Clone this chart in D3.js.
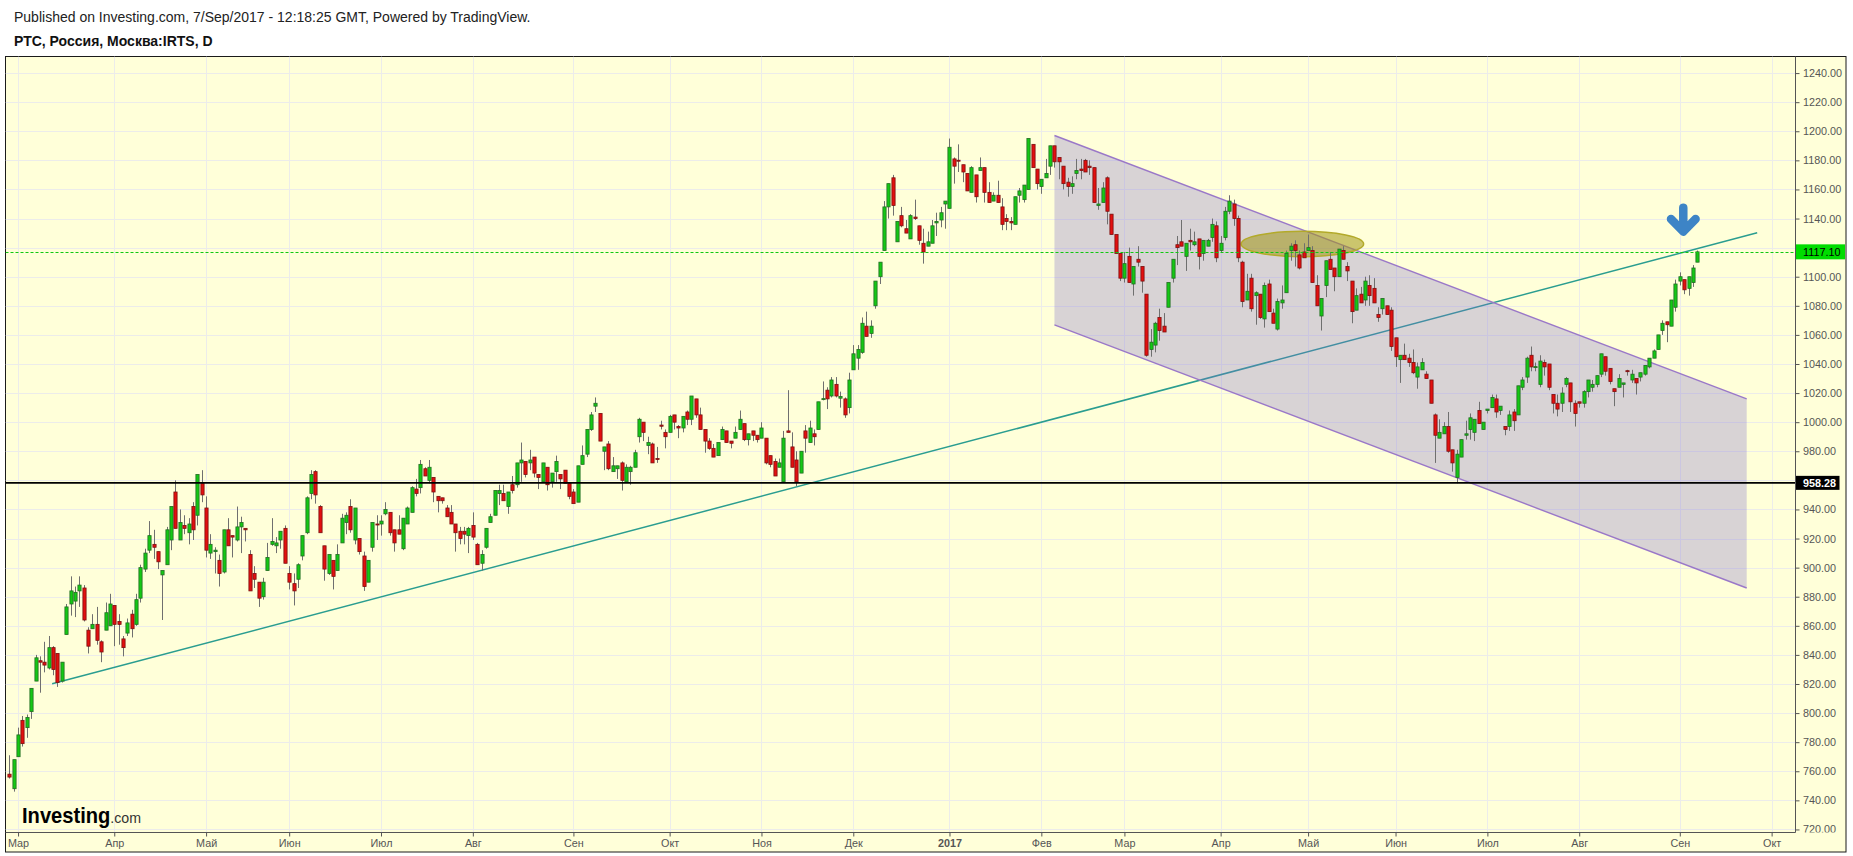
<!DOCTYPE html>
<html><head><meta charset="utf-8">
<script src="https://cdn.jsdelivr.net/npm/d3@7"></script>
<style>
body{margin:0;background:#fff;overflow:hidden}
svg{display:block}
text{font-family:"Liberation Sans",Arial,sans-serif}
</style>
</head><body>
<svg id="chart" width="1853" height="856"></svg>
<script>
// ---------- DATA (РТС daily) ----------
const open=[758,748,770,795,790,801,822,836,835,831,
845,841,822,854,875,877,884,886,857,858,
861,849,857,860,874,863,851,855,868,861,
879,899,912,916,911,895,902,919,952,919,
929,924,942,936,958,941,910,911,905,897,
926,922,919,928,927,909,896,890,880,898,
916,915,919,927,896,889,892,908,924,951,
966,942,915,896,905,898,917,931,942,919,
920,908,890,914,930,930,937,938,926,926,
913,930,938,954,955,968,960,962,949,948,
941,938,930,925,925,922,929,916,903,914,
931,936,951,951,942,957,957,972,973,972,
976,964,959,969,959,966,964,967,958,952,
945,971,978,995,1011,1006,980,985,966,968,
972,959,966,969,990,1000,984,985,975,998,
993,993,1005,997,996,1007,1002,1016,1005,995,
987,982,977,988,994,987,989,995,999,988,
994,991,989,989,977,973,969,959,994,983,
974,965,994,986,992,995,1015.8,1022,1018,1026,
1016.5,1016,1010,1036,1044,1048,1066,1061,1080,1100,
1118,1148,1168,1124,1142,1133,1126,1141,1135,1123,
1121,1123,1137,1139,1150,1147,1181,1180.1,1177,1171,
1158,1170,1173,1175,1158,1152,1156,1148,1140,1138,
1136,1156,1153,1160,1191,1174,1162,1168,1176,1190,
1182,1176,1165,1162,1171,1174,1180,1176,1175,1149,
1151,1168,1143,1129,1116,1099,1114,1095,1112,1107,
1088,1050,1053,1072,1066,1079,1099,1122,1124,1114,
1125,1122,1126,1116,1121,1127,1135,1118,1127,1145,
1150,1140,1110,1084,1099,1087,1088,1071,1095,1075,
1064,1082,1089,1118,1122,1115,1117,1118,1118,1094,
1073,1094,1112,1106,1100,1118,1107,1097,1077,1088,
1084,1094,1092,1074,1078,1080,1077,1058,1043,1046,
1044,1041,1031,1036,1033,1029,1005,989,992,997,
981,962,976,991,995,993,1008,995,1008,1010,
1016,1008,997,997,1007,1005,1024,1031,1046,1037.7,
1026,1041,1040,1019,1013,1013,1026,1027,1013,1014,
1013,1021,1024,1026,1033,1045,1037,1023,1024,1026,
1035.4,1029,1030,1031,1033,1038,1044,1050,1063,1069,
1066,1079,1097,1098,1092,1096,1110];
const high=[771,768,790,798,799,817,840,839,849,853,
846,841,835,875,894,887,894,888,859,868,
873,850,876,882,874,868,853,865,871,882,
902,913,932,926,911,898,928,942,960,940,
936,934,945,964,967,949,923,914,909,926,
934,922,942,935,927,912,901,890,893,917,
934,921,925,929,901,896,903,922,949,967,
967,943,915,909,905,916,937,938,947,941,
920,911,905,931,936,936,945,938,926,936,
934,942,956,961,974,969,974,962,949,948,
943,943,930,928,928,928,938,917,912,927,
937,953,957,957,952,963,972,986,973,981,
976,964,972,969,965,977,964,967,958,954,
970,984,995,1007,1017,1006,983,987,976,970,
973,971,970,981,1003,1000,990,986,983,1001,
995,1005,1005,998,1004,1008,1018,1016,1010,995,
989,985,986,997,994,987,997,1008,999,992,
994,991,1000,989,977,975,975,994,1022,993,
980,980,998,1001,995,1014,1028,1024,1031,1031,
1021,1017,1034,1053,1053,1072,1076,1070,1097,1110,
1152,1164,1170,1138,1148,1139,1143,1153,1135,1133,
1131,1139,1144,1148,1152,1195,1182,1191,1177,1171,
1176,1170,1182,1175,1165,1158,1166,1154,1143,1141,
1155,1161,1163,1195,1191,1174,1167,1181,1190,1190,
1182,1176,1168,1169,1181,1181,1181,1180,1175,1161,
1165,1169,1143,1129,1116,1117,1120,1107,1121,1107,
1088,1064,1069,1078,1075,1096,1112,1128,1139,1123,
1133,1131,1126,1125,1126,1140,1138,1128,1148,1156,
1153,1142,1111,1102,1102,1090,1088,1096,1098,1078,
1085,1094,1118,1123,1125,1118,1123,1129,1121,1101,
1085,1111,1117,1106,1119,1121,1110,1097,1092,1093,
1100,1101,1099,1079,1085,1080,1079,1058,1046,1054,
1047,1050,1041,1044,1035,1029,1006,1002,1000,1007,
981,981,988,1001,1006,1002,1014,1000,1009,1019,
1019,1011,997,1008,1009,1025,1031,1045,1052,1041,
1046,1043,1040,1019,1019,1024,1031,1027,1015,1014,
1022,1029,1029,1032,1047,1045,1037,1023,1033,1027,
1036,1036,1030,1034,1039,1044,1050,1060,1070,1069,
1084,1098,1103,1098,1100,1108,1118];
const low=[755,746,770,777,783,796,822,814,828,830,
826,818,821,854,867,866,873,863,841,858,
847,835,857,860,846,847,839,853,852,860,
876,897,910,906,899,864,902,912,927,919,
923,916,919,929,945,907,906,896,887,896,
915,907,918,910,918,884,886,873,878,898,
915,910,913,903,885,874,886,905,923,947,
944,924,891,895,885,898,917,923,924,916,
909,884,890,911,919,922,936,922,911,923,
912,930,938,949,951,963,958,945,938,944,
935,930,911,916,916,910,919,902,898,913,
931,936,943,946,937,951,955,959,962,967,
962,954,959,953,955,959,954,958,947,944,
945,971,976,994,1007,987,967,967,966,961,
953,959,957,969,986,987,978,972,972,995,
982,993,995,989,993,998,998,1003,995,979,
981,976,977,988,986,982,989,995,987,984,
987,986,989,971,969,963,969,959,993,969,
956,965,979,986,984,995,1015,1009,1017,1017,
1010,1003,1006,1036,1036,1047,1059,1058,1078,1095,
1118,1140,1142,1124,1134,1130,1126,1139,1122,1109,
1121,1123,1128,1134,1133,1147,1164,1172,1165,1159,
1158,1151,1173,1151,1151,1152,1151,1132,1132,1132,
1136,1151,1151,1160,1175,1160,1157,1168,1170,1175,
1167,1160,1155,1157,1167,1167,1172,1170,1151,1146,
1151,1136,1129,1116,1097,1096,1096,1087,1107,1089,
1045,1045,1048,1056,1062,1079,1096,1108,1121,1104,
1118,1121,1105,1111,1121,1124,1110,1117,1125,1143,
1135,1110,1079,1084,1076,1067,1071,1065,1076,1068,
1063,1078,1089,1111,1107,1105,1113,1118,1096,1080,
1063,1086,1105,1090,1100,1112,1097,1068,1077,1082,
1080,1080,1082,1069,1074,1074,1049,1038,1027,1043,
1038,1033,1023,1036,1030,1013,972,989,992,979,
966,958,976,988,988,987,999,995,1006,1010,
1003,1005,991,994,994,1005,1022,1027,1035,1035,
1024,1032,1022,1006,1004,1007,1024,1007,997,1010,
1010,1017,1021,1024,1031,1032,1026,1011,1024,1017,
1032,1027,1019,1028,1032,1037,1044,1050,1060,1055,
1066,1076,1094,1088,1087,1093,1110];
const close=[756,768,785,779,797,817,838,835,833,845,
830,821,835,873,884,883,888,864,846,861,
850,842,869,875,861,861,845,862,858,878,
900,910,922,914,904,898,926,942,927,931,
927,930,926,964,950,912,916,912,896,926,
915,921,928,931,926,884,892,879,890,907,
918,917,925,903,890,884,902,922,948,964,
950,924,899,909,894,909,934,936,926,941,
911,887,905,931,929.5,932,940,924,917,923,
934,941,955,951,971,963,969,952,946,946,
935,930,924,920,923,927,921,902,909,927,
935,953,953,946,952,953,972,974,964,974,
965,962,972,957,965,973,961,958,949,944,
970,977,995,1005,1013,987,983,968,970,970,
960,969,969,979,1002,993,986,972,974.5,997.2,
990,1004,1000,996,1004,1002,1018,1005,995,987,
982,976,986,995,986,985.5,993,1002,988,992,
991,988,996,972,971,963,972,989,993,969,
959,980,989,996,990,1014,1016.2,1016,1029,1018,
1017.6,1005,1029,1047,1050,1068,1059,1066,1097,1110,
1148,1164,1149,1138,1135,1130,1142,1140,1125,1117,
1124,1135,1138,1144,1152,1189,1176,1179.6,1172,1159,
1175,1155,1175,1158,1151,1156,1151,1136,1138,1137,
1155,1159,1163,1195,1175,1164,1167,1171,1190,1179,
1179,1164,1162,1164,1173,1173,1172,1175,1151,1150,
1161,1145,1129,1116,1099,1109,1096,1107,1110,1097,
1046,1055,1068,1063,1062,1096,1112,1120,1121,1123,
1124,1124,1114,1125,1125,1136,1113,1123,1145,1152,
1140,1113,1083,1090,1078,1089,1072,1094,1076,1068,
1083,1084,1116,1121,1118,1106,1113,1120,1096,1080,
1085,1111,1105,1100,1119,1112,1104,1076,1087,1082,
1097,1087,1082,1072,1085,1074,1052,1045,1046,1043,
1041,1034,1038,1041,1030,1013,991,993,997,980,
972,978,988,992,1003,1002,999,1000,1009,1017,
1007,1011,995,1005,1001,1025,1029,1044,1038,1038.2,
1042,1038,1024,1013,1009,1020,1030,1014,1006,1013,
1021,1029,1026,1032,1047,1035,1028,1021,1030,1027,
1035.2,1033,1027,1034,1039,1044,1049,1060,1068,1067,
1084,1095,1100,1091,1100,1106,1117.1];

const monthLabels=["Мар","Апр","Май","Июн","Июл","Авг","Сен","Окт","Ноя","Дек","2017","Фев","Мар","Апр","Май","Июн","Июл","Авг","Сен","Окт"];
const monthBars=[2,24,45,64,85,106,129,151,172,193,215,236,255,277,297,317,338,359,382,403];
const priceTicks=d3.range(720,1241,20);
const lastPrice=1117.10;
const levelPrice=958.28;
const trendLine=[[9.8,820.1],[399.7,1130.2]];
const channelTop=[[239,1197.1],[397.3,1016.0]];
const channelBottom=[[239,1066.9],[397.3,886.0]];
const ellipseMark={bar:295.7,price:1122.5,barR:14.0,priceR:8.7};
const arrowMark={bar:382.8,price:1131};
const titleLine1="Published on Investing.com, 7/Sep/2017 - 12:18:25 GMT, Powered by TradingView.";
const titleLine2="РТС, Россия, Москва:IRTS, D";

// ---------- LAYOUT ----------
const svg=d3.select("#chart");
const L=5.5,R=1795.5,T=56.5,B=832.5,FR=1846;
const x=d3.scaleLinear().domain([-0.87,408.46]).range([L,R]);
const y=d3.scaleLinear().domain([717.9,1251.4]).range([B,T]);

svg.append("rect").attr("width",1853).attr("height",856).attr("fill","#ffffff");
svg.append("rect").attr("x",L).attr("y",T).attr("width",FR-L).attr("height",852-T)
  .attr("fill","#ffffd9").attr("stroke","#1a1a1a").attr("stroke-width",1);

svg.append("text").attr("x",14).attr("y",22).attr("font-size",14).attr("fill","#222").text(titleLine1);
svg.append("text").attr("x",14).attr("y",45.5).attr("font-size",14).attr("font-weight","bold").attr("fill","#111").text(titleLine2);

const defs=svg.append("defs");
defs.append("clipPath").attr("id","plotClip").append("rect").attr("x",L).attr("y",T).attr("width",R-L).attr("height",B-T);
defs.append("clipPath").attr("id","yClip").append("rect").attr("x",R).attr("y",T).attr("width",FR-R).attr("height",B-T);

const plot=svg.append("g").attr("clip-path","url(#plotClip)");

// grid
plot.append("g").selectAll("line").data(priceTicks).join("line")
  .attr("x1",L).attr("x2",R).attr("y1",d=>Math.round(y(d))+0.5).attr("y2",d=>Math.round(y(d))+0.5)
  .attr("stroke","#ececea").attr("stroke-width",1);
plot.append("g").selectAll("line").data(monthBars).join("line")
  .attr("x1",d=>Math.round(x(d))+0.5).attr("x2",d=>Math.round(x(d))+0.5).attr("y1",T).attr("y2",B)
  .attr("stroke","#ececea").attr("stroke-width",1);

// trend line
plot.append("line")
  .attr("x1",x(trendLine[0][0])).attr("y1",y(trendLine[0][1]))
  .attr("x2",x(trendLine[1][0])).attr("y2",y(trendLine[1][1]))
  .attr("stroke","#2a9d90").attr("stroke-width",1.5);

// channel
const chPts=[channelTop[0],channelTop[1],channelBottom[1],channelBottom[0]];
plot.append("polygon").attr("points",chPts.map(p=>x(p[0])+","+y(p[1])).join(" "))
  .attr("fill","rgba(125,108,205,0.30)");
[channelTop,channelBottom].forEach(c=>{
  plot.append("line").attr("x1",x(c[0][0])).attr("y1",y(c[0][1])).attr("x2",x(c[1][0])).attr("y2",y(c[1][1]))
    .attr("stroke","#9a78c8").attr("stroke-width",1.4);
});

// ellipse
plot.append("ellipse")
  .attr("cx",x(ellipseMark.bar)).attr("cy",y(ellipseMark.price))
  .attr("rx",x(ellipseMark.bar+ellipseMark.barR)-x(ellipseMark.bar))
  .attr("ry",y(ellipseMark.price-ellipseMark.priceR)-y(ellipseMark.price))
  .attr("fill","rgba(160,150,20,0.55)").attr("stroke","#b3aa2a").attr("stroke-width",1.5);

// candles
const bars=d3.range(close.length);
const cg=plot.append("g");
cg.selectAll("line").data(bars).join("line")
  .attr("x1",i=>Math.round(x(i))+0.5).attr("x2",i=>Math.round(x(i))+0.5)
  .attr("y1",i=>y(high[i])).attr("y2",i=>y(low[i]))
  .attr("stroke","#6f6f6f").attr("stroke-width",1);
cg.selectAll("rect").data(bars).join("rect")
  .attr("x",i=>Math.round(x(i))+0.5-1.6).attr("width",3.2)
  .attr("y",i=>y(Math.max(open[i],close[i])))
  .attr("height",i=>Math.max(1,Math.abs(y(open[i])-y(close[i]))))
  .attr("fill",i=>close[i]>=open[i]?"#14c814":"#e30f0f")
  .attr("stroke",i=>close[i]>=open[i]?"#236b23":"#7a1010")
  .attr("stroke-width",0.8);

// horizontal levels
plot.append("line").attr("x1",L).attr("x2",R).attr("y1",y(levelPrice)).attr("y2",y(levelPrice))
  .attr("stroke","#000").attr("stroke-width",1.6);
plot.append("line").attr("x1",L).attr("x2",R).attr("y1",Math.round(y(lastPrice))+0.5).attr("y2",Math.round(y(lastPrice))+0.5)
  .attr("stroke","#10c810").attr("stroke-width",1).attr("stroke-dasharray","3,2");

// arrow
const ax=x(arrowMark.bar), ay=y(arrowMark.price);
plot.append("path")
  .attr("d",`M${ax},${ay-24}L${ax},${ay-1}M${ax-12.3},${ay-12.6}L${ax},${ay}L${ax+12.3},${ay-12.6}`)
  .attr("fill","none").attr("stroke","#3d84c6").attr("stroke-width",8.5)
  .attr("stroke-linecap","round").attr("stroke-linejoin","round");

// logo (one text element, horizontally condensed)
const logo=svg.append("text").attr("transform","translate(22,823) scale(0.915,1)");
logo.append("tspan").attr("font-size",22).attr("font-weight","bold").attr("fill","#000").text("Investing");
logo.append("tspan").attr("font-size",15.5).attr("fill","#333").text(".com");

// axes (labels hidden under the price boxes are not drawn, as in the reference)
const yAxis=d3.axisRight(y).tickValues(priceTicks).tickFormat(d3.format(".2f")).tickSize(4).tickPadding(3.5);
const yg=svg.append("g").attr("clip-path","url(#yClip)").append("g").attr("transform",`translate(${R},0)`).call(yAxis);
yg.select(".domain").remove();
yg.selectAll("line").attr("stroke","#555");
yg.selectAll("text").attr("fill","#555").attr("font-size",10.8).attr("font-family","Liberation Sans, Arial, sans-serif");
yg.selectAll(".tick").filter(d=>Math.abs(y(d)-y(lastPrice))<13||Math.abs(y(d)-y(levelPrice))<13).select("text").remove();

const xAxis=d3.axisBottom(x).tickValues(monthBars).tickFormat((d,i)=>monthLabels[i]).tickSize(4).tickPadding(3);
const xg=svg.append("g").attr("transform",`translate(0,${B})`).call(xAxis);
xg.select(".domain").remove();
xg.selectAll("line").attr("stroke","#555");
xg.selectAll("text").attr("fill","#555").attr("font-size",10.8).attr("font-family","Liberation Sans, Arial, sans-serif")
  .attr("font-weight",(d,i)=>monthLabels[i]==="2017"?"bold":"normal");

svg.append("line").attr("x1",R).attr("x2",R).attr("y1",T).attr("y2",B).attr("stroke","#555").attr("stroke-width",1);
svg.append("line").attr("x1",L).attr("x2",R).attr("y1",B).attr("y2",B).attr("stroke","#555").attr("stroke-width",1);

// price labels
const gl=svg.append("g");
const yl=y(lastPrice);
gl.append("rect").attr("x",R+0.5).attr("y",yl-7.5).attr("width",49).attr("height",15).attr("fill","#00dc00");
gl.append("text").attr("x",1803).attr("y",yl).attr("dy","0.35em").attr("font-size",10.8).attr("fill","#000").text(lastPrice.toFixed(2));
const yb=y(levelPrice);
gl.append("rect").attr("x",R+0.5).attr("y",yb-7).attr("width",43.5).attr("height",14).attr("fill","#000");
gl.append("text").attr("x",1803).attr("y",yb).attr("dy","0.35em").attr("font-size",10.8).attr("font-weight","bold").attr("fill","#fff").text(levelPrice.toFixed(2));
</script>
</body></html>
